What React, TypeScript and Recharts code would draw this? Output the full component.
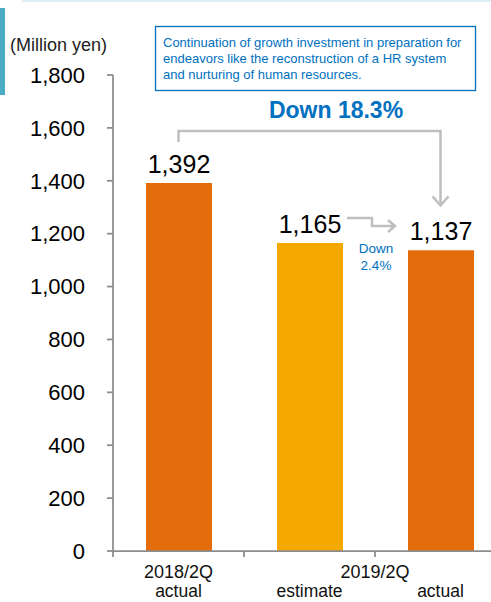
import { Bar, BarChart, Cell, LabelList, XAxis, YAxis } from "recharts";

const categories = ["2018/2Q actual", "2019/2Q estimate", "2019/2Q actual"];
const periods = ["2018/2Q", "2019/2Q", "2019/2Q"];
const kinds = ["actual", "estimate", "actual"];
const values = [1392, 1165, 1137];
const yTicks = [0, 200, 400, 600, 800, 1000, 1200, 1400, 1600, 1800];

const noteLines = [
  "Continuation of growth investment in preparation for",
  "endeavors like the reconstruction of a HR system",
  "and nurturing of human resources.",
];
const totalChange = "Down 18.3%";
const estimateChange = ["Down", "2.4%"];

const data = categories.map((name, i) => ({
  name,
  value: values[i],
  kind: kinds[i],
}));

// layout
const W = 491;
const H = 602;
const TOP = 75;
const PLOT_H = 476;
const AXIS_Y = TOP + PLOT_H;
const Y_AXIS_W = 113;
const PLOT_W = 393;
const HALF_BAND = PLOT_W / categories.length / 2;
const FONT = "'Liberation Sans', Arial, sans-serif";
const BLUE = "#0070C0";
const GRAY = "#BFBFBF";
const AXIS = "#8C8C8C";

const yOf = (v: number) => AXIS_Y - (v / 1800) * PLOT_H;
const xOf = (i: number) => Y_AXIS_W + HALF_BAND * (2 * i + 1);
const fmt = (v: number) => v.toLocaleString("en-US");

const XTick = (props: any) => {
  const { x, payload } = props;
  const i = payload.index;
  // a period shared by neighbouring bars is written once, centred between them
  const sharedWithPrev = i > 0 && periods[i] === periods[i - 1];
  const sharedWithNext = i + 1 < periods.length && periods[i + 1] === periods[i];
  return (
    <g>
      <line
        x1={x - HALF_BAND}
        x2={x - HALF_BAND}
        y1={AXIS_Y}
        y2={AXIS_Y + 6}
        stroke={AXIS}
        strokeWidth={1.75}
      />
      {!sharedWithNext && (
        <text
          x={sharedWithPrev ? x - HALF_BAND : x}
          y={578}
          textAnchor="middle"
          fontSize={18}
          fill="#111"
        >
          {periods[i]}
        </text>
      )}
      <text x={x} y={597} textAnchor="middle" fontSize={17.5} fill="#111">
        {kinds[i]}
      </text>
    </g>
  );
};

export default function App() {
  return (
    <div
      style={{
        position: "absolute",
        left: 0,
        top: 0,
        width: W,
        height: H,
        overflow: "hidden",
        background: "#fff",
        fontFamily: FONT,
      }}
    >
      <BarChart
        width={Y_AXIS_W + PLOT_W}
        height={H}
        data={data}
        margin={{ top: TOP, right: 0, bottom: 0, left: 0 }}
        barCategoryGap="25%"
        style={{ fontFamily: FONT }}
      >
        <XAxis
          dataKey="name"
          height={H - AXIS_Y}
          interval={0}
          tickLine={false}
          axisLine={{ stroke: AXIS, strokeWidth: 1.75 }}
          tick={<XTick />}
        />
        <YAxis
          type="number"
          domain={[0, 1800]}
          ticks={yTicks}
          width={Y_AXIS_W}
          tickSize={6}
          tickMargin={22}
          tickFormatter={fmt}
          tick={{ fontSize: 22, fill: "#000" }}
          axisLine={{ stroke: AXIS, strokeWidth: 1.75 }}
          tickLine={{ stroke: AXIS, strokeWidth: 1.75 }}
        />
        <Bar dataKey="value" barSize={66} isAnimationActive={false}>
          {data.map((d, i) => (
            <Cell key={i} fill={d.kind === "estimate" ? "#F5A800" : "#E46C0A"} />
          ))}
          <LabelList
            dataKey="value"
            position="top"
            offset={10}
            formatter={(v: any) => fmt(Number(v))}
            style={{ fontSize: 25, fill: "#000" }}
          />
        </Bar>
      </BarChart>

      <svg
        width={W}
        height={H}
        style={{ position: "absolute", left: 0, top: 0, pointerEvents: "none", fontFamily: FONT }}
      >
        <rect x={22} y={0} width={W - 22} height={2} fill="#DDEFF5" />
        <rect x={0} y={8} width={5} height={87} fill="#4BACC6" />

        <text x={10} y={51} fontSize={18} fill="#222">
          (Million yen)
        </text>

        <rect x={155.5} y={26.5} width={320} height={64} fill="#fff" stroke={BLUE} strokeWidth={1.3} />
        {noteLines.map((t, i) => (
          <text key={i} x={163} y={47 + i * 16} fontSize={13} fill={BLUE}>
            {t}
          </text>
        ))}

        <text x={336} y={118} textAnchor="middle" fontSize={23} fontWeight="bold" fill={BLUE}>
          {totalChange}
        </text>
        <polyline
          points={`${xOf(0)},${yOf(values[0]) - 41} ${xOf(0)},131 ${xOf(2)},131 ${xOf(2)},${yOf(values[2]) - 45}`}
          fill="none"
          stroke={GRAY}
          strokeWidth={2.5}
        />
        <polyline
          points={`${xOf(2) - 8},${yOf(values[2]) - 54} ${xOf(2)},${yOf(values[2]) - 45} ${xOf(2) + 8},${yOf(values[2]) - 54}`}
          fill="none"
          stroke={GRAY}
          strokeWidth={2.5}
        />

        <polyline
          points="347,218 372,218 372,226 395,226"
          fill="none"
          stroke={GRAY}
          strokeWidth={2.5}
        />
        <polyline points="388,220 395,226 388,232" fill="none" stroke={GRAY} strokeWidth={2.5} />
        {estimateChange.map((t, i) => (
          <text key={i} x={376} y={253 + i * 17} textAnchor="middle" fontSize={13.5} fill={BLUE}>
            {t}
          </text>
        ))}
      </svg>
    </div>
  );
}
